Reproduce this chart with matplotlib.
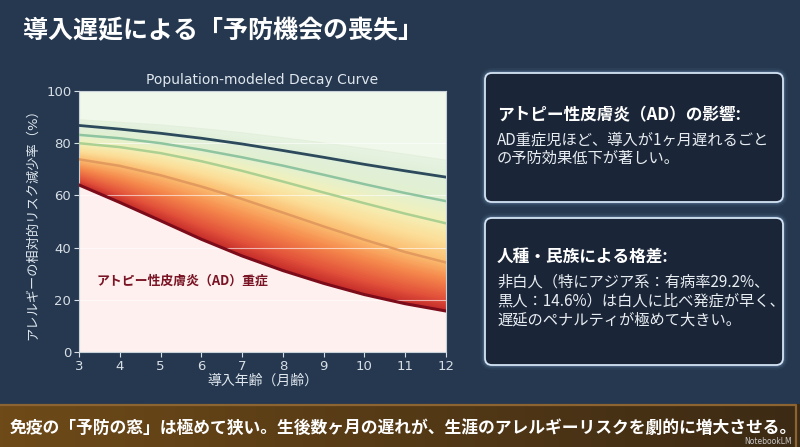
import numpy as np
import matplotlib
matplotlib.use("Agg")
import matplotlib.pyplot as plt
from matplotlib.colors import LinearSegmentedColormap
from matplotlib.patches import FancyBboxPatch

plt.rcParams['font.family'] = ['DejaVu Sans', 'Noto Sans CJK JP']
JP = ['Noto Sans CJK JP', 'DejaVu Sans']

# ---- data ----
months = [3, 4, 5, 6, 7, 8, 9, 10, 11, 12]
severe_ad = [64.0, 57.3, 50.3, 43.2, 36.8, 31.2, 26.3, 22.0, 18.5, 15.7]
moderate = [73.8, 71.3, 67.7, 63.4, 58.6, 53.4, 48.1, 43.0, 38.3, 34.3]
mild = [80.0, 78.5, 76.2, 73.1, 69.4, 65.3, 61.1, 57.0, 53.0, 49.3]
low_risk = [83.2, 81.9, 80.0, 77.5, 74.6, 71.4, 67.9, 64.3, 60.9, 57.8]
general = [86.8, 85.4, 83.8, 81.9, 79.7, 77.2, 74.6, 71.9, 69.4, 67.0]
upper_band = [89.0, 88.0, 87.0, 85.6, 84.0, 82.1, 80.1, 78.0, 75.8, 73.5]

yticks = [0, 20, 40, 60, 80, 100]
xticks = [3, 4, 5, 6, 7, 8, 9, 10, 11, 12]

slide_title = "導入遅延による「予防機会の喪失」"
chart_title = "Population-modeled Decay Curve"
xlabel = "導入年齢（月齢）"
ylabel = "アレルギーの相対的リスク減少率（%）"
curve_label = "アトピー性皮膚炎（AD）重症"
box1_head = "アトピー性皮膚炎（AD）の影響:"
box1_body = ["AD重症児ほど、導入が1ヶ月遅れるごと", "の予防効果低下が著しい。"]
box2_head = "人種・民族による格差:"
box2_body = ["非白人（特にアジア系：有病率29.2%、", "黒人：14.6%）は白人に比べ発症が早く、",
             "遅延のペナルティが極めて大きい。"]
footer = "免疫の「予防の窓」は極めて狭い。生後数ヶ月の遅れが、生涯のアレルギーリスクを劇的に増大させる。"

BG = '#25384f'

fig = plt.figure(figsize=(8, 4.47), dpi=100, facecolor=BG)

# background layer in pixel coords
bg = fig.add_axes([0, 0, 1, 1])
bg.set_xlim(0, 800)
bg.set_ylim(447, 0)
bg.axis('off')
bg.set_facecolor(BG)

bg.text(23, 31, slide_title, family=JP, fontsize=18, fontweight='bold',
        color='white', va='center', ha='left')

# footer banner with horizontal gradient
grad = np.linspace(0, 1, 256).reshape(1, -1)
banner_cmap = LinearSegmentedColormap.from_list('banner', ['#6e4a18', '#553a16', '#3c2a14'])
bg.imshow(grad, extent=(0, 800, 447, 404), cmap=banner_cmap, aspect='auto', zorder=1)
bg.plot([0, 796, 796], [404.5, 404.5, 447], color='#8c6432', lw=1.6, zorder=2)
bg.text(10, 428, footer, family=JP, fontsize=12.1, fontweight='bold', color='white',
        va='center', ha='left', zorder=3)
bg.text(792, 441.5, "NotebookLM", fontsize=5.5, color='#c8c8c8', ha='right', va='center', zorder=3)


def info_box(y0, y1, head, body, head_y, body_y):
    for lw, a in [(7, 0.05), (4.5, 0.1), (2.5, 0.2)]:
        bg.add_patch(FancyBboxPatch((485, y0), 298, y1 - y0, boxstyle='round,pad=0,rounding_size=7',
                                    fc='none', ec='#9cc4ee', lw=lw, alpha=a, zorder=2))
    bg.add_patch(FancyBboxPatch((485, y0), 298, y1 - y0, boxstyle='round,pad=0,rounding_size=7',
                                fc='#1a2537', ec='#d4e4f4', lw=1.3, zorder=3))
    bg.text(497, head_y, head, family=JP, fontsize=12, fontweight='bold', color='white',
            va='center', ha='left', zorder=4)
    for line, yy in zip(body, body_y):
        bg.text(497, yy, line, family=JP, fontsize=11, color='#e8edf2',
                va='center', ha='left', zorder=4)


info_box(73, 202, box1_head, box1_body, 115, [140, 158.5])
info_box(218, 365, box2_head, box2_body, 257, [282, 301, 320])

# ---- chart ----
ax = fig.add_axes([79 / 800, 1 - 352 / 447, 367 / 800, 261 / 447])
ax.set_facecolor('#f0f8ec')

x = np.array(months)
layers = [np.array(v) for v in (severe_ad, moderate, mild, low_risk, general, upper_band)]
stops = [0.0, 0.42, 0.66, 0.8, 0.9, 1.0]
fill_cmap = LinearSegmentedColormap.from_list('decay', [
    (0.0, '#c42c2a'), (0.1, '#e2513a'), (0.27, '#f5884c'), (0.42, '#fbbd70'),
    (0.55, '#fbdf9a'), (0.66, '#f4f0b8'), (0.8, '#e3f0d0'), (0.9, '#dfefd9'),
    (1.0, '#e7f3e1')])

ax.fill_between(x, 0, layers[0], color='#fdf0ee', lw=0, zorder=1)
n_strips = 30
for i in range(len(layers) - 1):
    lo, hi = layers[i], layers[i + 1]
    for s in range(n_strips):
        a = s / n_strips
        c = fill_cmap(stops[i] + (stops[i + 1] - stops[i]) * a)
        ax.fill_between(x, lo + (hi - lo) * a, hi, color=c, lw=0, zorder=1)

ax.plot(x, upper_band, color='#e4f0dc', lw=0.8, zorder=1.2)
ax.plot(x, general, color='#2c4a5c', lw=2.0, zorder=3)
ax.plot(x, low_risk, color='#8fc4a0', lw=1.8, zorder=3)
ax.plot(x, mild, color='#acd092', lw=1.8, zorder=3)
ax.plot(x, moderate, color='#e39a5e', lw=1.8, zorder=3)
ax.plot(x, severe_ad, color='#7c0c1a', lw=2.2, zorder=3)

ax.text(3.43, 27.5, curve_label, family=JP, fontsize=9.3, fontweight='bold',
        color='#7a1424', va='center', ha='left', zorder=4)

ax.set_xlim(3, 12)
ax.set_ylim(0, 100)
ax.set_xticks(xticks)
ax.set_yticks(yticks)
ax.yaxis.grid(True, color='white', alpha=0.6, lw=0.8)
ax.tick_params(colors='#d8dee6', labelsize=9.5, length=3.5, width=0.8, pad=2)
for sp in ax.spines.values():
    sp.set_color('#c8d0d8')
    sp.set_linewidth(0.8)

ax.set_title(chart_title, color='#dfe6ee', fontsize=10, pad=5)
ax.set_xlabel(xlabel, color='#dfe6ee', fontsize=10, labelpad=1)
ax.set_ylabel(ylabel, color='#dfe6ee', fontsize=9.5, labelpad=5)

fig.savefig('out.png', dpi=100, facecolor=BG)
